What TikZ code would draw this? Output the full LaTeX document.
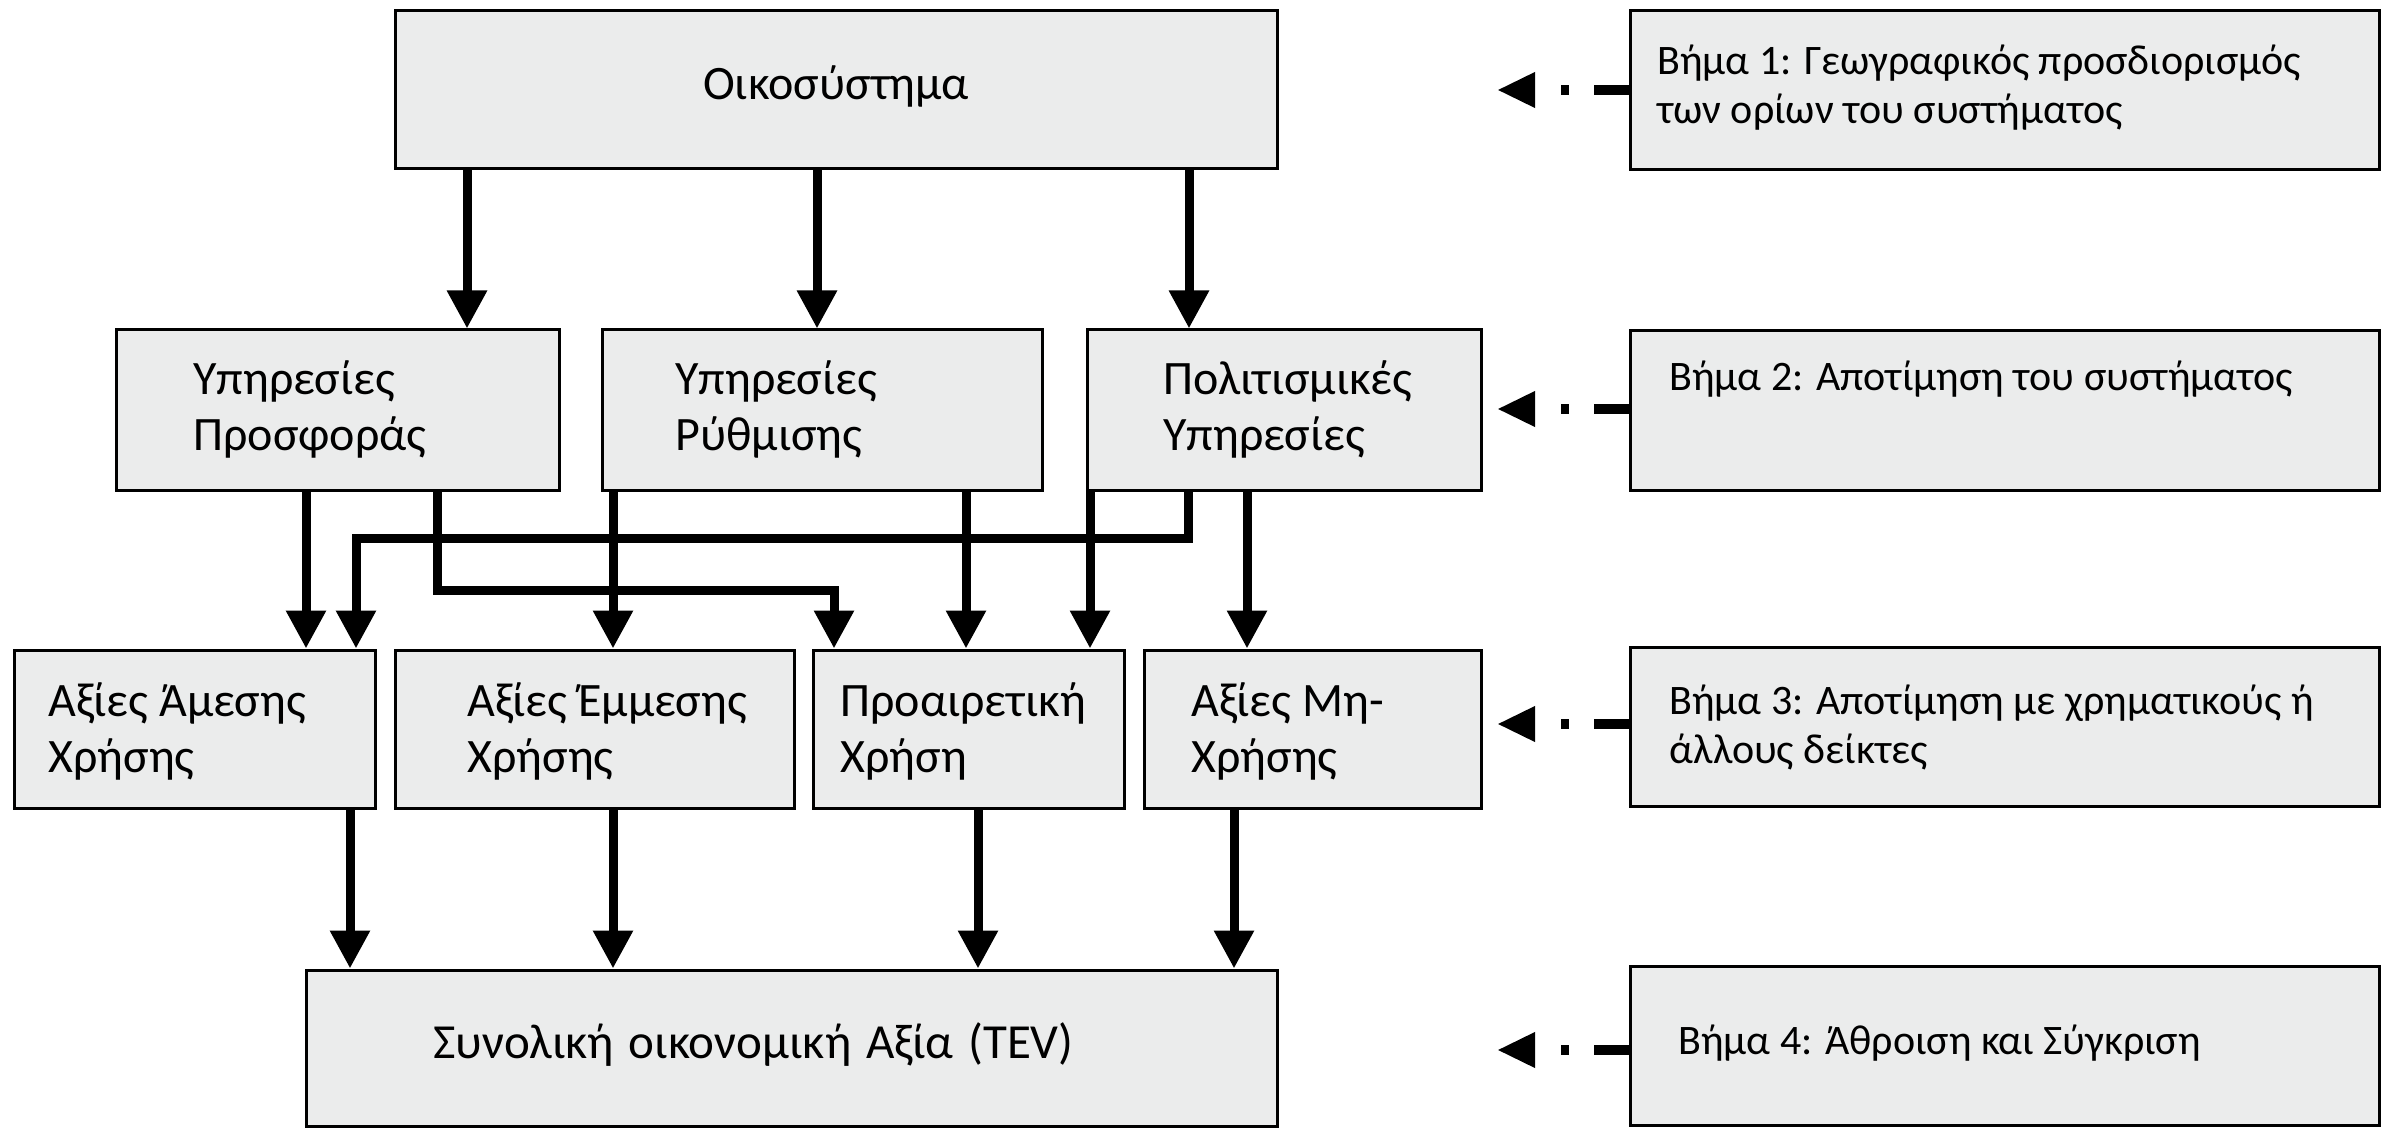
\documentclass[tikz,border=0pt]{standalone}
\usepackage{fontspec}
\setmainfont{Carlito}
\usetikzlibrary{arrows.meta}
\definecolor{boxfill}{RGB}{235,236,236}
\begin{document}
\begin{tikzpicture}[x=0.5pt,y=-0.5pt,
  box/.style={draw=black, line width=1.5pt, fill=boxfill, inner sep=0pt},
  lt/.style={font=\fontsize{24}{28}\selectfont, inner sep=0pt, align=left, anchor=base west},
  rt/.style={font=\fontsize{21}{24.5}\selectfont, inner sep=0pt, align=left, anchor=base west},
  arr/.style={line width=4.5pt, -{Triangle[length=19pt,width=19pt]}},
  darr/.style={line width=5pt, dash pattern=on 17.5pt off 12.5pt on 4pt off 40pt, -{Triangle[length=19pt,width=16.5pt]}},
]
\useasboundingbox (0,0) rectangle (2391,1128);
% left boxes
\node[box, minimum width=441pt, minimum height=79pt] (eco) at (836,90) {};
\node[box, minimum width=221.5pt, minimum height=80pt] (prov) at (337.5,410) {};
\node[box, minimum width=220pt, minimum height=80pt] (reg) at (822,410) {};
\node[box, minimum width=197pt, minimum height=80pt] (cult) at (1284,410) {};
\node[box, minimum width=180.5pt, minimum height=79pt] (dir) at (194.5,729) {};
\node[box, minimum width=199.5pt, minimum height=79pt] (ind) at (594.5,729) {};
\node[box, minimum width=155.5pt, minimum height=79pt] (opt) at (968.5,729) {};
\node[box, minimum width=168.5pt, minimum height=79pt] (non) at (1312.5,729) {};
\node[box, minimum width=485.5pt, minimum height=78pt] (tev) at (791.5,1048) {};
% right boxes
\node[box, minimum width=374.5pt, minimum height=79.5pt] (s1) at (2004.5,90.5) {};
\node[box, minimum width=374.5pt, minimum height=79.5pt] (s2) at (2004.5,410.5) {};
\node[box, minimum width=374.5pt, minimum height=79.5pt] (s3) at (2004.5,726.5) {};
\node[box, minimum width=374.5pt, minimum height=79.5pt] (s4) at (2004.5,1046) {};
% texts (base anchor of multi-line nodes = last line)
\node[lt, anchor=base] (ecot) at (836,100) {Οικοσύστημα};
\node[lt] (provt) at (193,450) {Υπηρεσίες\\Προσφοράς};
\node[lt] (regt) at (675,450) {Υπηρεσίες\\Ρύθμισης};
\node[lt] (cultt) at (1163,450) {Πολιτισμικές\\Υπηρεσίες};
\node[lt] (dirt) at (48,772) {Αξίες Άμεσης\\Χρήσης};
\node[lt] (indt) at (467,772) {Αξίες Έμμεσης\\Χρήσης};
\node[lt] (optt) at (840,772) {Προαιρετική\\Χρήση};
\node[lt] (nont) at (1191,772) {Αξίες Μη-\\Χρήσης};
\node[lt, font=\fontsize{24.5}{28}\selectfont] (tevt) at (433,1058) {\spaceskip=0.3em\relax Συνολική οικονομική Αξία (TEV)};
\node[rt] (s1t) at (1657,124) {Βήμα 1: Γεωγραφικός προσδιορισμός\\των ορίων του συστήματος};
\node[rt] (s2t) at (1669,391) {Βήμα 2: Αποτίμηση του συστήματος};
\node[rt] (s3t) at (1669,763) {Βήμα 3: Αποτίμηση με χρηματικούς ή\\άλλους δείκτες};
\node[rt] (s4t) at (1678,1054) {Βήμα 4: Άθροιση και Σύγκριση};
% arrows from ecosystem
\draw[arr] (467,0 |- eco.south) -- (467,0 |- prov.north);
\draw[arr] (817,0 |- eco.south) -- (817,0 |- reg.north);
\draw[arr] (1189,0 |- eco.south) -- (1189,0 |- cult.north);
% services to values
\draw[arr] (306,0 |- prov.south) -- (306,0 |- dir.north);
\draw[arr] (1188,0 |- cult.south) |- (356,538) -- (356,0 |- dir.north);
\draw[arr] (437,0 |- prov.south) |- (834,590) -- (834,0 |- opt.north);
\draw[arr] (613,0 |- reg.south) -- (613,0 |- ind.north);
\draw[arr] (966,0 |- reg.south) -- (966,0 |- opt.north);
\draw[arr] (1090,0 |- cult.south) -- (1090,0 |- opt.north);
\draw[arr] (1247,0 |- cult.south) -- (1247,0 |- non.north);
% values to TEV
\draw[arr] (350,0 |- dir.south) -- (350,0 |- tev.north);
\draw[arr] (613,0 |- ind.south) -- (613,0 |- tev.north);
\draw[arr] (978,0 |- opt.south) -- (978,0 |- tev.north);
\draw[arr] (1234,0 |- non.south) -- (1234,0 |- tev.north);
% step arrows
\coordinate (t1) at (1497,90);
\coordinate (t2) at (1497,409);
\coordinate (t3) at (1497,724);
\coordinate (t4) at (1497,1050);
\draw[darr] (s1.west |- t1) -- (t1);
\draw[darr] (s2.west |- t2) -- (t2);
\draw[darr] (s3.west |- t3) -- (t3);
\draw[darr] (s4.west |- t4) -- (t4);
\end{tikzpicture}
\end{document}
